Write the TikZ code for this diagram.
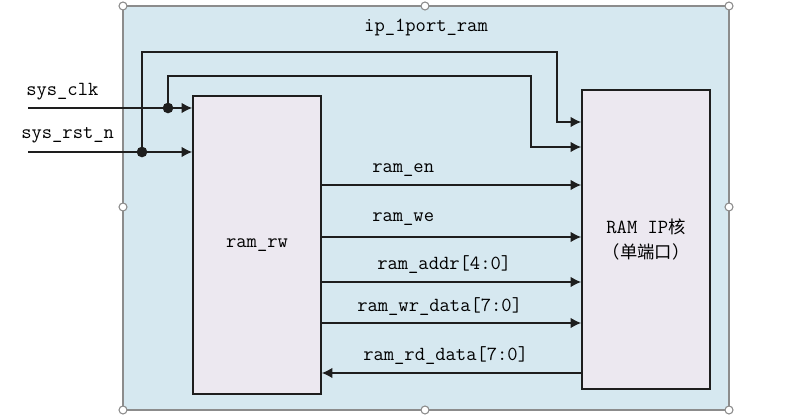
\documentclass[tikz,border=0pt]{standalone}
\usepackage{fontspec}
\usetikzlibrary{arrows.meta}
\newfontfamily\cjk{Noto Sans CJK SC}
\definecolor{bgblue}{HTML}{D6E8F0}
\definecolor{boxfill}{HTML}{ECE8F0}
\definecolor{framegray}{HTML}{8C8C8C}
\definecolor{wirecol}{HTML}{1E1E1E}

\begin{document}
\begin{tikzpicture}[x=0.75pt, y=-0.75pt, >={Latex[length=8pt,width=8pt]},
    font=\ttfamily\fontsize{15}{17}\selectfont,
    wire/.style={draw=wirecol, line width=1.2pt},
    block/.style={draw=wirecol, fill=boxfill, line width=1.2pt, inner sep=0pt,
        minimum width=96pt, align=center},
    handle/.style={circle, draw=framegray, fill=white, line width=0.8pt,
        inner sep=0pt, minimum size=6pt},
    lbl/.style={inner sep=0pt, anchor=west}]
    \useasboundingbox (0,0) rectangle (790,416);
    % outer frame
    \draw[draw=framegray, fill=bgblue, line width=1.5pt] (123,6) rectangle (729,410);
    \foreach \hx/\hy in {123/6, 425/6, 729/6, 123/207, 729/207, 123/410, 425/410, 729/410}
        \node[handle] (h\hx\hy) at (\hx,\hy) {};
    \node (title) at (426,27) {ip\_1port\_ram};

    \node[block, minimum height=223.5pt] (rw) at (257,245) {ram\_rw};
    \node[block, minimum height=224pt, font=\ttfamily\fontsize{15}{19}\selectfont]
        (ip) at (646,239.5) {RAM IP{\cjk\fontsize{13}{19}\selectfont 核}\\{\cjk\fontsize{13}{19}\selectfont （单端口）}};

    % clock and reset
    \coordinate (clk) at (28,108);
    \coordinate (rst) at (28,152);
    \node[lbl] (clklbl) at (26,92) {sys\_clk};
    \node[lbl] (rstlbl) at (21,135) {sys\_rst\_n};
    \draw[wire, ->] (clk) -- (clk -| rw.west);
    \draw[wire, ->] (rst) -- (rst -| rw.west);
    \coordinate (clkdot) at (168,108);
    \coordinate (rstdot) at (142,152);
    \fill[wirecol] (clkdot) circle (4pt);
    \fill[wirecol] (rstdot) circle (4pt);
    \draw[wire, ->] (clkdot) |- (531,76) |- (ip.west |- 0,147);
    \draw[wire, ->] (rstdot) |- (557,52) |- (ip.west |- 0,122);

    % ram signals
    \foreach \y/\ly/\lx/\txt in {185/170/372/ram\_en, 237/219/372/ram\_we,
        282/265/377/ram\_addr[4:0], 323/307/357/ram\_wr\_data[7:0]} {
        \draw[wire, ->] (rw.east |- 0,\y) -- (ip.west |- 0,\y);
        \node[lbl] (sig\y) at (\lx,\ly) {\txt};
    }
    \draw[wire, <-] (rw.east |- 0,373) -- (ip.west |- 0,373);
    \node[lbl] (sigrd) at (363,356) {ram\_rd\_data[7:0]};
\end{tikzpicture}
\end{document}
